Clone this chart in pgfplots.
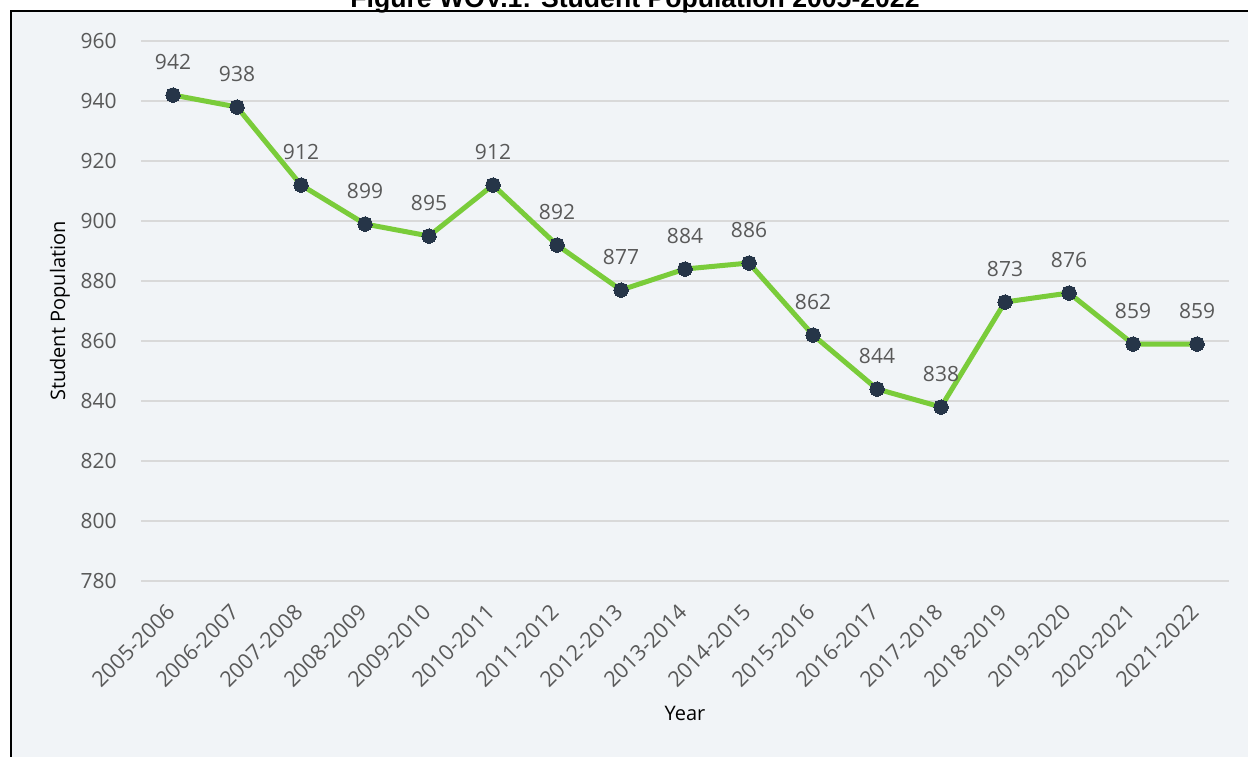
\documentclass[border=0pt]{standalone}
\usepackage{pgfplots}
\pgfplotsset{compat=1.18}
\usepackage{fontspec}
\setmainfont{Open Sans}
\newfontfamily\titlefont{Liberation Sans}
\definecolor{bg}{HTML}{F1F4F7}
\definecolor{gridc}{HTML}{D9D9D9}
\definecolor{txt}{HTML}{595959}
\definecolor{linec}{HTML}{7ACC3A}
\definecolor{markc}{HTML}{263548}
\begin{document}
\begin{tikzpicture}
\begin{scope}[x=0.5pt,y=-0.5pt]
\path[use as bounding box] (0,0) rectangle (1248,756);
\fill[bg] (11,11) rectangle (1270,770);
\draw[black, line width=1pt] (11,775) -- (11,11) -- (1270,11);
\node[font=\titlefont\bfseries\fontsize{13.3}{15}\selectfont, anchor=base, inner sep=0pt] at (635,7) {Figure WOV.1: Student Population 2005-2022};
\end{scope}
\begin{axis}[
  at={(70.5pt,-290.5pt)}, anchor=south west,
  scale only axis, width=544pt, height=270pt,
  xmin=-0.5, xmax=16.5, ymin=780, ymax=960,
  ytick={780,800,...,960},
  xtick={0,...,16},
  xticklabels={2005-2006,2006-2007,2007-2008,2008-2009,2009-2010,2010-2011,2011-2012,2012-2013,2013-2014,2014-2015,2015-2016,2016-2017,2017-2018,2018-2019,2019-2020,2020-2021,2021-2022},
  axis line style={draw=none},
  major tick length=0pt,
  ymajorgrids,
  grid style={line width=0.75pt, color=gridc},
  clip=false,
  /pgf/number format/assume math mode=true,
  tick label style={font=\fontsize{10.5}{12}\selectfont, text=txt},
  yticklabel style={xshift=-8.7pt},
  xticklabel style={rotate=45, anchor=east, xshift=-7.1pt, yshift=-8.9pt, font=\fontsize{10.8}{12}\selectfont},
  xlabel={Year}, ylabel={Student Population},
  label style={font=\fontsize{10.7}{12}\selectfont, text=txt},
  every axis x label/.style={at={(axis description cs:0.5,-0.246)}, anchor=center},
  every axis y label/.style={at={(axis description cs:-0.0744,0.5)}, rotate=90, anchor=center},
  nodes near coords,
  every node near coord/.append style={font=\fontsize{10.5}{12}\selectfont, text=txt, anchor=center, yshift=16.5pt},
]
\addplot[color=linec, line width=2.5pt, mark=*, mark size=3.6pt, mark options={fill=markc, draw=markc, line width=0pt}] coordinates {
(0,942) (1,938) (2,912) (3,899) (4,895) (5,912) (6,892) (7,877) (8,884) (9,886) (10,862) (11,844) (12,838) (13,873) (14,876) (15,859) (16,859)
};
\end{axis}
\end{tikzpicture}
\end{document}
